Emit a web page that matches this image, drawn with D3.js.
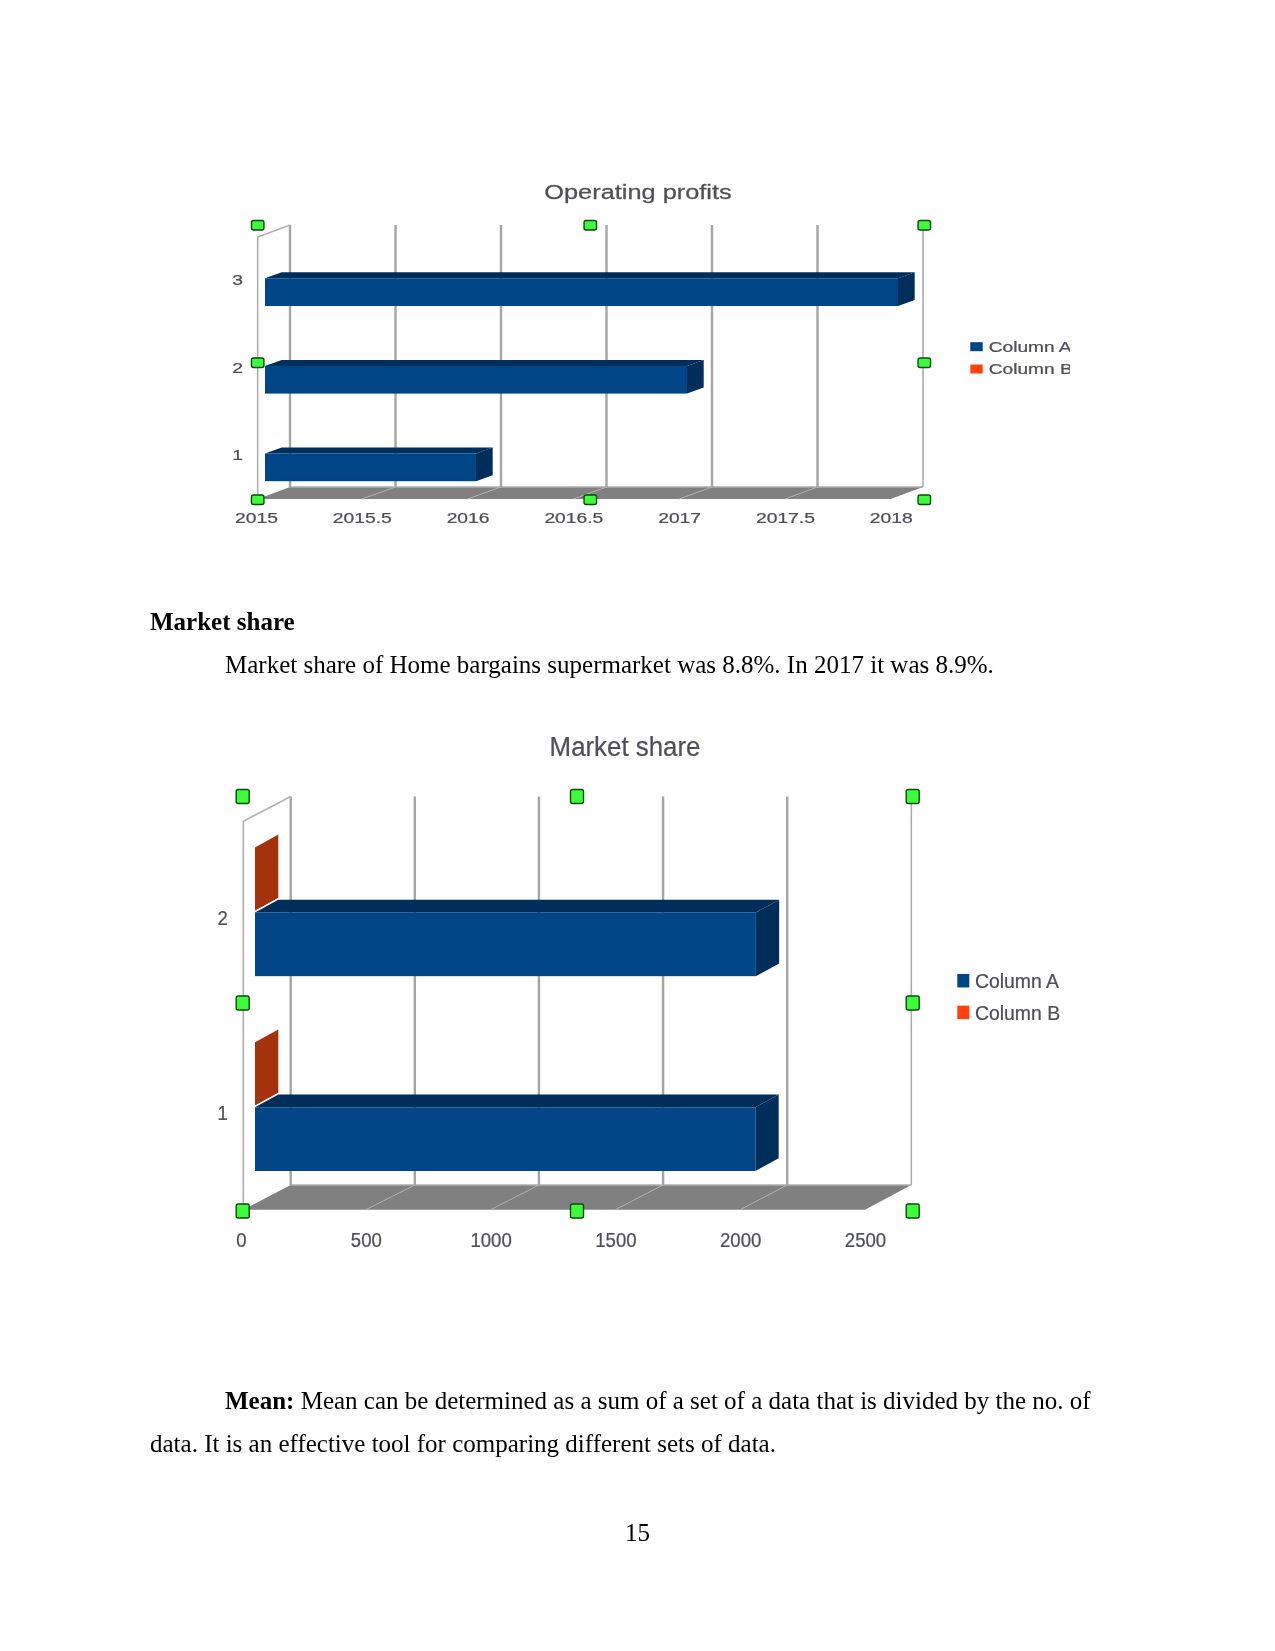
<!DOCTYPE html>
<html>
  <head>
    <title>Market share</title>
    <script src="https://cdn.jsdelivr.net/npm/d3@7/dist/d3.min.js"></script>
    <style>
      html, body { margin: 0; padding: 0; background: #fff; }
      svg { display: block; }
    </style>
  </head>
  <body>
    <svg width="1275" height="1651" id="mainsvg"></svg>
    <script>
      // data
      const seriesNames = ["Column A", "Column B"];
      const seriesColors = ["#004586", "#ff420e"];

      const profitCategories = ["3", "2", "1"];
      const profitColumnA = [2018, 2017, 2016];
      const profitColumnB = [null, null, null];
      const profitTicks = [2015, 2015.5, 2016, 2016.5, 2017, 2017.5, 2018];

      const shareCategories = ["2", "1"];
      const shareColumnA = [2018, 2016];
      const shareColumnB = [8.9, 8.8];
      const shareTicks = [0, 500, 1000, 1500, 2000, 2500];

      const svg = d3.select("#mainsvg");
      const serif = "'Liberation Serif', serif";
      const sans = "'Liberation Sans', sans-serif";
      const ink = "#4f4f5a";

      // the charts are pasted bitmaps in the page, so they are a little soft
      svg.append("filter").attr("id", "soft")
        .attr("filterUnits", "userSpaceOnUse")
        .attr("x", 0).attr("y", 0).attr("width", 1275).attr("height", 1651)
        .append("feGaussianBlur").attr("stdDeviation", 0.45);

      function drawChart(o) {
        const g = svg.append("g").attr("filter", "url(#soft)");
        const dy = o.depth[1];
        const barDx = o.barDepth[0], barDy = o.barDepth[1];

        // same value scale on the back wall, the floor edge and the bar plane
        const back = d3.scaleLinear().domain(o.domain).range(o.backRange);
        const front = d3.scaleLinear().domain(o.domain).range(o.frontRange);
        const x = d3.scaleLinear().domain(o.domain).range(o.barRange);
        const y0 = d3.scaleBand().domain(o.categories).range(o.groupRange).paddingInner(o.groupPadding);
        const y1 = d3.scaleBand().domain(["Column B", "Column A"]).range([0, y0.bandwidth()]).paddingInner(0.02);

        const xMin = o.domain[0], xMax = o.domain[1];
        const poly = (pts) => pts.map((p) => p.join(",")).join(" ");

        // floor
        g.append("polygon")
          .attr("fill", "#808080")
          .attr("points", poly([
            [o.wallX, o.floorY],
            [back(xMin), o.floorY + dy],
            [back(xMax), o.floorY + dy],
            [front(xMax), o.floorY],
          ]));
        g.append("line")
          .attr("x1", back(xMin)).attr("x2", back(xMax))
          .attr("y1", o.floorY + dy).attr("y2", o.floorY + dy)
          .attr("stroke", "#adadad").attr("stroke-width", 1.5);

        // grid lines and their floor runs
        o.ticks.forEach((t, i) => {
          const last = i === o.ticks.length - 1;
          if (!last) {
            g.append("line")
              .attr("x1", back(t)).attr("x2", back(t))
              .attr("y1", o.topY).attr("y2", o.floorY + dy)
              .attr("stroke", "#a4a4a4").attr("stroke-width", 2.4);
          }
          if (i > 0 && !last) {
            g.append("line")
              .attr("x1", back(t)).attr("y1", o.floorY + dy)
              .attr("x2", front(t)).attr("y2", o.floorY)
              .attr("stroke", "#b3b3b3").attr("stroke-width", 1);
          }
        });

        // right edge and the left wall outline
        g.append("line")
          .attr("x1", back(xMax)).attr("x2", back(xMax))
          .attr("y1", o.topY).attr("y2", o.floorY + dy)
          .attr("stroke", "#adadad").attr("stroke-width", 1.6);
        g.append("polyline")
          .attr("fill", "none").attr("stroke", "#b0b0b0").attr("stroke-width", 1.6)
          .attr("points", poly([
            [o.wallX, o.floorY],
            [o.wallX, o.topY - dy],
            [back(xMin), o.topY],
          ]));

        // bars, series B sits behind series A
        const drawBar = (cat, name, value, color, side, topFace) => {
          if (value === null) return;
          const bx = x(xMin);
          const ex = x(value);
          const by = y0(cat) + y1(name);
          const bh = y1.bandwidth();
          const bar = g.append("g");
          if (name === "Column B") {
            // almost no length, only the end face shows
            bar.append("polygon")
              .attr("fill", side)
              .attr("points", poly([
                [bx, by], [bx + barDx, by + barDy],
                [bx + barDx, by + bh + barDy], [bx, by + bh],
              ]));
            bar.append("line")
              .attr("x1", bx).attr("y1", by + bh)
              .attr("x2", bx + barDx).attr("y2", by + bh + barDy)
              .attr("stroke", "#fff").attr("stroke-width", 1);
            return;
          }
          bar.append("polygon").attr("fill", topFace)
            .attr("points", poly([
              [bx, by], [bx + barDx, by + barDy], [ex + barDx, by + barDy], [ex, by],
            ]));
          bar.append("polygon").attr("fill", side)
            .attr("points", poly([
              [ex, by], [ex + barDx, by + barDy], [ex + barDx, by + bh + barDy], [ex, by + bh],
            ]));
          bar.append("rect")
            .attr("x", bx).attr("y", by)
            .attr("width", ex - bx).attr("height", bh)
            .attr("fill", color);
        };
        o.categories.forEach((cat, i) => {
          drawBar(cat, "Column B", o.columnB[i], seriesColors[1], "#a33208", "#a33208");
        });
        o.categories.forEach((cat, i) => {
          drawBar(cat, "Column A", o.columnA[i], seriesColors[0], "#002e5a", "#002e5a");
        });

        // value axis, labels only
        const xAxis = d3.axisBottom(front).tickValues(o.ticks).tickSize(0).tickPadding(0).tickFormat((d) => d);
        const xg = g.append("g")
          .attr("transform", `translate(0, ${o.xLabelY})`)
          .call(xAxis);
        xg.select(".domain").remove();
        xg.selectAll("text")
          .attr("y", 0).attr("dy", "0.36em")
          .attr("font-family", sans).attr("font-size", o.tickSize).attr("fill", ink)
          .attr("stroke", ink).attr("stroke-width", 0.25)
          .attr("transform", `scale(${o.stretch}, 1)`);

        // category axis, labels only
        const yAxis = d3.axisLeft(y0).tickSize(0).tickPadding(0);
        const yg = g.append("g")
          .attr("transform", `translate(${o.yLabelX}, ${o.yLabelShift})`)
          .call(yAxis);
        yg.select(".domain").remove();
        yg.selectAll("text")
          .attr("x", 0).attr("dy", "0.36em")
          .attr("text-anchor", "middle")
          .attr("font-family", sans).attr("font-size", o.tickSize).attr("fill", ink)
          .attr("stroke", ink).attr("stroke-width", 0.25)
          .attr("transform", `scale(${o.stretch}, 1)`);

        // title
        g.append("text")
          .text(o.title)
          .attr("transform", `translate(${o.titleX}, ${o.titleY}) scale(${o.titleStretch}, 1)`)
          .attr("dy", "0.36em")
          .attr("text-anchor", "middle")
          .attr("font-family", sans).attr("font-size", o.titleSize).attr("fill", ink)
          .attr("stroke", ink).attr("stroke-width", 0.25);

        // legend, the first chart has it cut off on the right
        const clipId = "clip" + Math.round(o.legendX);
        svg.append("clipPath").attr("id", clipId)
          .append("rect")
          .attr("x", o.legendX - 5).attr("y", o.legendY[0] - 30)
          .attr("width", o.legendClip - o.legendX + 5).attr("height", 90);
        seriesNames.forEach((name, i) => {
          g.append("rect")
            .attr("x", o.legendX - o.swatchGap).attr("y", o.legendY[i] - o.swatch[1] / 2)
            .attr("width", o.swatch[0]).attr("height", o.swatch[1])
            .attr("fill", seriesColors[i]);
          g.append("g").attr("clip-path", `url(#${clipId})`)
            .append("text")
            .text(name)
            .attr("transform", `translate(${o.legendX}, ${o.legendY[i]}) scale(${o.legendStretch}, 1)`)
            .attr("dy", "0.36em")
            .attr("font-family", sans).attr("font-size", o.legendSize).attr("fill", ink)
            .attr("stroke", ink).attr("stroke-width", 0.25);
        });

        // selection handles
        o.handleX.forEach((hx, i) => {
          o.handleY.forEach((hy, j) => {
            if (i === 1 && j === 1) return;
            g.append("rect")
              .attr("x", hx - o.handle[0] / 2).attr("y", hy - o.handle[1] / 2)
              .attr("width", o.handle[0]).attr("height", o.handle[1])
              .attr("rx", 2)
              .attr("fill", "#3dfb3d").attr("stroke", "#0b4a0b").attr("stroke-width", 1.4);
          });
        });
      }

      drawChart({
        title: "Operating profits",
        titleX: 638, titleY: 191.5, titleSize: 19.5, titleStretch: 1.3,
        categories: profitCategories,
        columnA: profitColumnA,
        columnB: profitColumnB,
        ticks: profitTicks,
        domain: [2015, 2018],
        backRange: [290, 923],
        frontRange: [256, 890.7],
        barRange: [265, 898],
        groupRange: [250, 481.2],
        groupPadding: 0.361,
        wallX: 257.7,
        depth: [32, -12],
        barDepth: [16.7, -6],
        topY: 225,
        floorY: 499,
        xLabelY: 518,
        yLabelX: 237.7,
        yLabelShift: 2,
        tickSize: 14.5,
        stretch: 1.33,
        legendX: 988.7,
        legendClip: 1070,
        legendY: [346.7, 369],
        legendSize: 14.5,
        legendStretch: 1.32,
        swatch: [12.4, 9],
        swatchGap: 18.4,
        handleX: [257.7, 590.3, 924.3],
        handleY: [225.3, 362.7, 499.7],
        handle: [12.5, 9.5],
      });

      drawChart({
        title: "Market share",
        titleX: 625, titleY: 745.8, titleSize: 27.5, titleStretch: 0.94,
        categories: shareCategories,
        columnA: shareColumnA,
        columnB: shareColumnB,
        ticks: shareTicks,
        domain: [0, 2500],
        backRange: [290.7, 911.3],
        frontRange: [241, 865],
        barRange: [255, 875.5],
        groupRange: [847.4, 1171],
        groupPadding: 0.339,
        wallX: 243.3,
        depth: [47, -24.7],
        barDepth: [23.3, -12.8],
        topY: 796.5,
        floorY: 1209.7,
        xLabelY: 1239.4,
        yLabelX: 222.7,
        yLabelShift: 6.4,
        tickSize: 20,
        stretch: 0.93,
        legendX: 975,
        legendClip: 1075,
        legendY: [980.7, 1012.4],
        legendSize: 20,
        legendStretch: 0.97,
        swatch: [12, 13.5],
        swatchGap: 17.7,
        handleX: [242.7, 577, 912.7],
        handleY: [796.5, 1003, 1211],
        handle: [13, 14],
      });

      // page text around the charts
      const lines = [
        { x: 150, y: 630, parts: [["Market share", true]] },
        { x: 225, y: 673.4, parts: [["Market share of Home bargains supermarket was 8.8%. In 2017 it was 8.9%.", false]] },
        { x: 225, y: 1409.3, parts: [["Mean: ", true], ["Mean can be determined as a sum of a set of a data that is divided by the no. of", false]] },
        { x: 150, y: 1452.3, parts: [["data. It is an effective tool for comparing different sets of data.", false]] },
        { x: 625, y: 1540.7, parts: [["15", false]] },
      ];
      lines.forEach((line) => {
        const t = svg.append("text")
          .attr("x", line.x).attr("y", line.y)
          .attr("font-family", serif).attr("font-size", 25).attr("fill", "#000")
          .attr("xml:space", "preserve");
        line.parts.forEach((p) => {
          t.append("tspan").text(p[0]).attr("font-weight", p[1] ? "bold" : "normal");
        });
      });
    </script>
  </body>
</html>
